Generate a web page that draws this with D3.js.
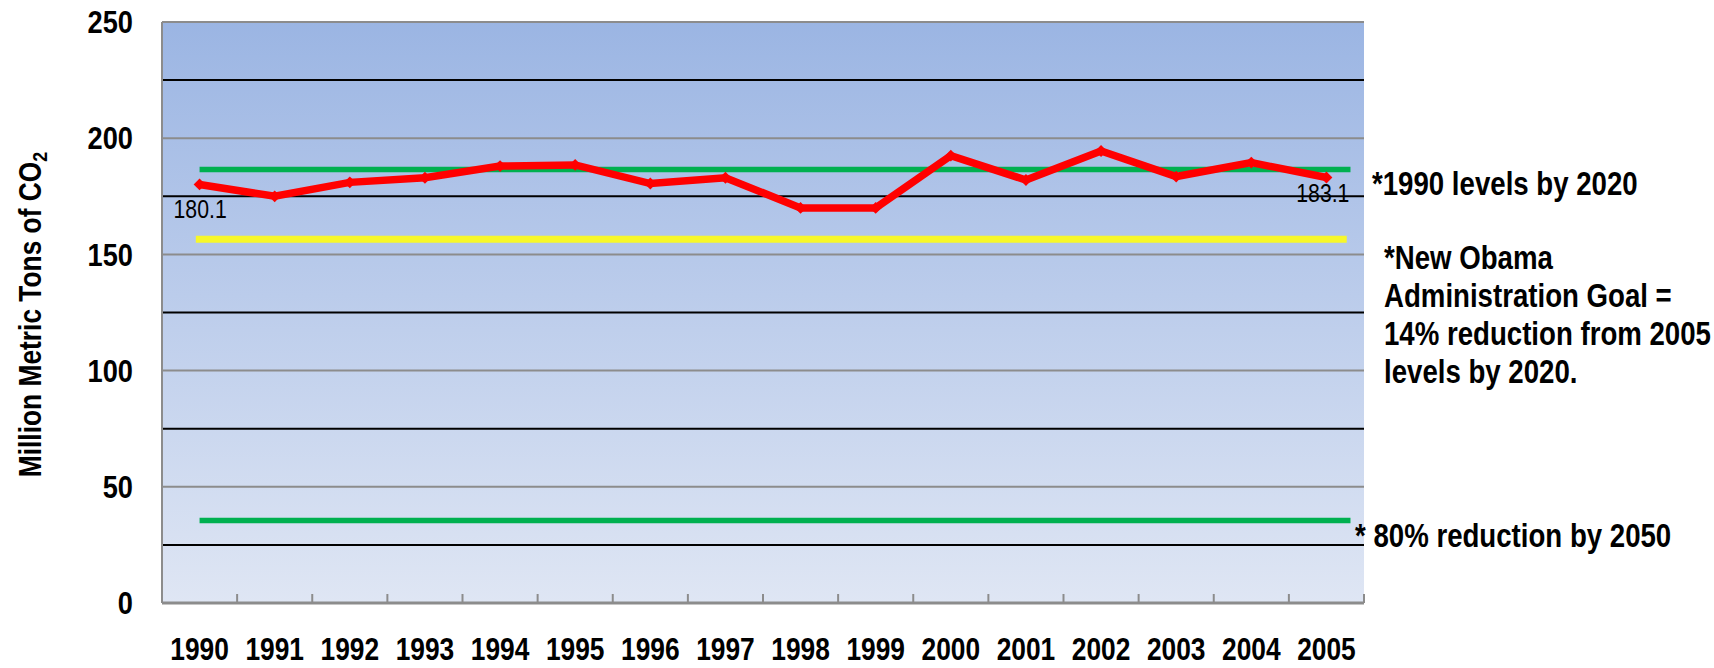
<!DOCTYPE html>
<html>
<head>
<meta charset="utf-8">
<script src="https://cdn.jsdelivr.net/npm/d3@7"></script>
<style>
    body { margin: 0; background: #fff; }
    text { font-family: "Liberation Sans", Arial, sans-serif; fill: #000; }
</style>
</head>
<body>
<svg id="viz" width="1714" height="668"></svg>
<script>
// CO2 emissions, million metric tons
var years = ["1990", "1991", "1992", "1993", "1994", "1995", "1996", "1997",
    "1998", "1999", "2000", "2001", "2002", "2003", "2004", "2005"];
var emissions = [180.1, 175, 181, 183, 188, 188.5, 180.5, 183,
    170, 170, 192.5, 182, 194.5, 183.5, 189.5, 183.1];
var yTicks = [0, 50, 100, 150, 200, 250];
var minorTicks = [25, 75, 125, 175, 225];

// target lines: value plus start / end in year units
var targetNames = ["1990 levels", "Obama goal", "80% by 2050"];
var targetValues = [186.5, 156.5, 35.5];
var targetFrom = [1990, 1989.95, 1990];
var targetTo = [2005.32, 2005.27, 2005.32];
var targetColors = ["#00b050", "#f7f72a", "#00b050"];

var NARROW = 0.85; // squeeze Liberation Sans into a narrow face

window.addEventListener("load", run);

// text inside a translated group, squeezed horizontally
function narrowText(parent, x, y, rotate) {
    return parent.append("g")
        .attr("transform", "translate(" + x + "," + y + ")" + (rotate ? " rotate(" + rotate + ")" : ""))
        .append("text")
        .attr("transform", "scale(" + NARROW + ",1)");
}

function run() {
    var svg = d3.select("#viz");
    var margin = { left: 162, top: 22, right: 350, bottom: 65 };
    var width = +svg.attr("width");
    var height = +svg.attr("height");
    var x0 = margin.left, x1 = width - margin.right;
    var y0 = height - margin.bottom, y1 = margin.top;

    var x = d3.scaleBand().domain(years).range([x0, x1]).padding(0);
    var xYear = d3.scaleLinear()
        .domain([+years[0] - 0.5, +years[years.length - 1] + 0.5])
        .range([x0, x1]);
    var y = d3.scaleLinear().domain([0, 250]).range([y0, y1]);

    // plot background gradient
    var grad = svg.append("defs").append("linearGradient")
        .attr("id", "bg").attr("x1", 0).attr("y1", 0).attr("x2", 0).attr("y2", 1);
    grad.append("stop").attr("offset", "0%").attr("stop-color", "#9bb5e3");
    grad.append("stop").attr("offset", "100%").attr("stop-color", "#dfe6f4");

    svg.append("rect")
        .attr("x", x0).attr("y", y1)
        .attr("width", x1 - x0).attr("height", y0 - y1)
        .style("fill", "url(#bg)");

    // gridlines: grey on the labelled values, black in between
    svg.selectAll(".major").data(yTicks.filter(function (d) { return d > 0; }))
        .enter().append("line")
        .attr("x1", x0).attr("x2", x1)
        .attr("y1", function (d) { return y(d); })
        .attr("y2", function (d) { return y(d); })
        .style("stroke", "#8c8c8c").style("stroke-width", 2);

    svg.selectAll(".minor").data(minorTicks).enter().append("line")
        .attr("x1", x0).attr("x2", x1)
        .attr("y1", function (d) { return y(d); })
        .attr("y2", function (d) { return y(d); })
        .style("stroke", "#000").style("stroke-width", 2);

    // axes lines
    svg.append("line").attr("x1", x0).attr("x2", x0).attr("y1", y1).attr("y2", y0)
        .style("stroke", "#8c8c8c").style("stroke-width", 2);
    svg.append("line").attr("x1", x0).attr("x2", x1).attr("y1", y0).attr("y2", y0)
        .style("stroke", "#8c8c8c").style("stroke-width", 3);

    // x tick marks between categories (pointing up)
    var boundaries = years.map(function (d) { return x(d); }).concat([x1]);
    svg.selectAll(".xtick").data(boundaries.slice(1)).enter().append("line")
        .attr("x1", function (d) { return d; })
        .attr("x2", function (d) { return d; })
        .attr("y1", y0).attr("y2", y0 - 9)
        .style("stroke", "#8c8c8c").style("stroke-width", 2);

    // y tick labels
    yTicks.forEach(function (d) {
        narrowText(svg, x0 - 29, y(d))
            .attr("dy", "0.35em")
            .style("text-anchor", "end")
            .style("font-size", "32px")
            .style("font-weight", "bold")
            .text(d);
    });

    // x tick labels
    years.forEach(function (d) {
        narrowText(svg, x(d) + x.bandwidth() / 2, y0 + 57)
            .style("text-anchor", "middle")
            .style("font-size", "31px")
            .style("font-weight", "bold")
            .text(d);
    });

    // y axis title
    var title = narrowText(svg, 41, (y1 + y0) / 2 + 2, -90)
        .style("text-anchor", "middle")
        .style("font-size", "31px")
        .style("font-weight", "bold");
    title.append("tspan").text("Million Metric Tons of CO");
    title.append("tspan").attr("dy", "0.3em").style("font-size", "21px").text("2");

    // target lines
    targetNames.forEach(function (name, i) {
        svg.append("line")
            .attr("x1", xYear(targetFrom[i]))
            .attr("x2", xYear(targetTo[i]))
            .attr("y1", y(targetValues[i]))
            .attr("y2", y(targetValues[i]))
            .style("stroke", targetColors[i])
            .style("stroke-width", i === 1 ? 7 : 5.5);
    });

    // emissions line
    var line = d3.line()
        .x(function (d, i) { return x(years[i]) + x.bandwidth() / 2; })
        .y(function (d) { return y(d); });

    svg.append("path")
        .datum(emissions)
        .attr("d", line)
        .style("fill", "none")
        .style("stroke", "#ff0000")
        .style("stroke-width", 7.5)
        .style("stroke-linejoin", "miter");

    svg.selectAll(".marker").data(emissions).enter().append("path")
        .attr("d", d3.symbol().type(d3.symbolSquare).size(70))
        .attr("transform", function (d, i) {
            return "translate(" + (x(years[i]) + x.bandwidth() / 2) + "," + y(d) + ") rotate(45)";
        })
        .style("fill", "#ff0000");

    // first and last value labels
    var first = 0, last = emissions.length - 1;
    narrowText(svg, x(years[first]) + x.bandwidth() / 2 - 26, y(emissions[first]) + 34)
        .style("font-size", "25px")
        .text(emissions[first].toFixed(1));
    narrowText(svg, x(years[last]) + x.bandwidth() / 2 + 23, y(emissions[last]) + 25)
        .style("text-anchor", "end")
        .style("font-size", "25px")
        .text(emissions[last].toFixed(1));

    // annotations beside the plot
    var notes = [
        { lines: ["*1990 levels by 2020"], dx: 8, dy: 25 },
        { lines: ["*New Obama", "Administration Goal =", "14% reduction from 2005", "levels by 2020."], dx: 20, dy: 30 },
        { lines: ["* 80% reduction by 2050"], dx: -9, dy: 27 }
    ];
    notes.forEach(function (note, i) {
        var t = narrowText(svg, x1 + note.dx, y(targetValues[i]) + note.dy)
            .style("font-size", "32.5px")
            .style("font-weight", "bold");
        note.lines.forEach(function (s, j) {
            t.append("tspan")
                .attr("x", 0)
                .attr("dy", j === 0 ? 0 : 38)
                .text(s);
        });
    });
}
</script>
</body>
</html>
